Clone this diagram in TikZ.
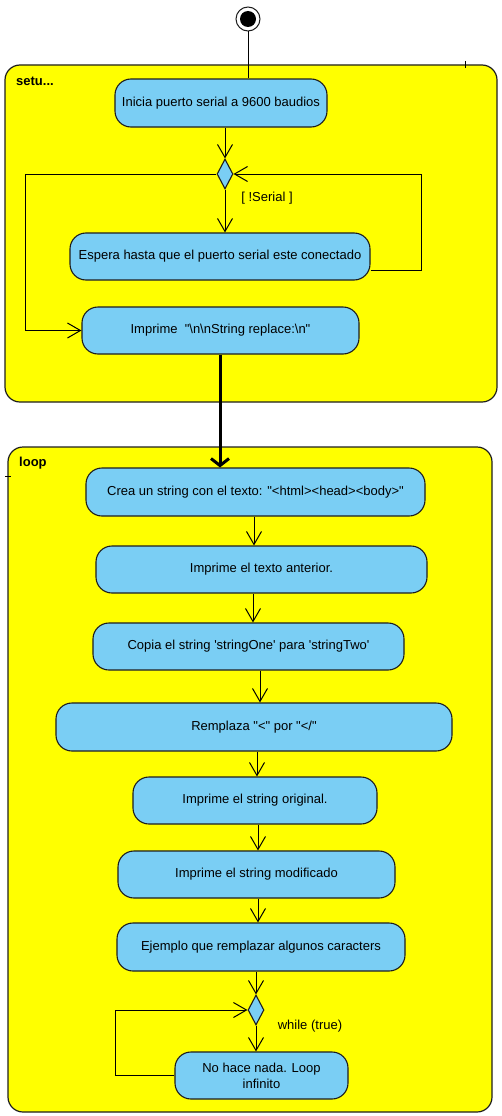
\documentclass[tikz,border=0pt]{standalone}
\usepackage{fontspec}
\setmainfont{Liberation Sans}[Ligatures=TeXOff]
\usetikzlibrary{arrows.meta,shapes.geometric}
\definecolor{actblue}{RGB}{122,206,244}
\definecolor{frameyellow}{RGB}{255,255,0}
\definecolor{edge}{RGB}{30,30,30}
\tikzset{
  act/.style={draw=edge, line width=1.1pt, fill=actblue, rounded corners=16pt,
    inner sep=0pt, align=center, font=\fontsize{13}{16}\selectfont},
  frame/.style={draw=edge, line width=1.2pt, fill=frameyellow, rounded corners=15pt},
  dec/.style={draw=edge, line width=1.1pt, fill=actblue, diamond, inner sep=0pt,
    minimum width=16pt, minimum height=30pt},
  arr/.style={line width=1pt, -{Straight Barb[length=13pt,width=15pt]}},
  flowline/.style={line width=1pt},
  lbl/.style={font=\fontsize{13}{16}\selectfont, inner sep=0pt},
  title/.style={font=\fontsize{13}{16}\selectfont\bfseries, inner sep=0pt, anchor=west},
}
\begin{document}
\begin{tikzpicture}[x=1pt,y=-1pt]
\useasboundingbox (0,0) rectangle (501,1116);
% frames
\draw[frame] (5,65) rectangle (497,402);
\draw[line width=0.8pt] (465,61) -- (465,68);
\node[title] (setuplbl) at (16,81) {setu...};
\draw[frame] (8,447) rectangle (492,1112);
\draw[line width=0.8pt] (5,476) -- (11,476);
\node[title] (looplbl) at (19,463) {loop};

% initial node
\node[circle, draw=edge, fill=white, line width=1pt, minimum size=24pt, inner sep=0pt] (init) at (248,19) {};
\node[circle, fill=black, minimum size=16pt, inner sep=0pt] (initdot) at (248,19) {};

% setup activities
\node[act, minimum width=212pt, minimum height=48pt] (b1) at (221,103) {Inicia puerto serial a 9600 baudios};
\node[dec] (d1) at (225,174) {};
\node[act, minimum width=300pt, minimum height=47pt] (b2) at (220,256.5) {Espera hasta que el puerto serial este conectado};
\node[act, minimum width=277pt, minimum height=47pt] (b3) at (220.5,330.5) {Imprime\ \ "{\textbackslash}n{\textbackslash}nString replace:{\textbackslash}n"};
\node[lbl] (serlbl) at (267,198) {[ !Serial ]};

\coordinate (xa) at (225,0);
\coordinate (xinit) at (248,0);
\coordinate (xleft) at (25,0);
\coordinate (xthick) at (220,0);

\draw[flowline] (init.south) -- (init.south |- b1.north);
\draw[arr] (b1.south -| xa) -- (d1.north);
\draw[arr] (d1.south) -- (b2.north -| xa);
\draw[arr] (d1.west) -- (d1.west -| xleft) |- (b3.west);
\draw[arr] ([yshift=-13.5pt]b2.east) -- ++(51,0) |- (d1.east);

% loop activities
\node[act, minimum width=339pt, minimum height=48pt] (c1) at (255.5,492) {Crea un string con el texto: "<html><head><body>"};
\node[act, minimum width=331pt, minimum height=47pt] (c2) at (261.5,569.5) {Imprime el texto anterior.};
\node[act, minimum width=311pt, minimum height=47pt] (c3) at (248.5,646.5) {Copia el string 'stringOne' para 'stringTwo'};
\node[act, minimum width=396pt, minimum height=48pt] (c4) at (254,727) {Remplaza "<" por "</"};
\node[act, minimum width=244pt, minimum height=47pt] (c5) at (255,800.5) {Imprime el string original.};
\node[act, minimum width=277pt, minimum height=47pt] (c6) at (256.5,874.5) {Imprime el string modificado};
\node[act, minimum width=288pt, minimum height=48pt] (c7) at (261,947) {Ejemplo que remplazar algunos caracters};
\node[dec] (d2) at (256,1010) {};
\node[act, minimum width=173pt, minimum height=47pt] (c8) at (261.5,1075.5) {No hace nada. Loop\\infinito};
\node[lbl] (whilelbl) at (310,1026) {while (true)};

\draw[line width=3pt, -{Straight Barb[length=7pt,width=18pt]}] (b3.south -| xthick) -- (c1.north -| xthick);

\coordinate (x1) at (254,0);
\coordinate (x2) at (253,0);
\coordinate (x3) at (260,0);
\coordinate (x4) at (257,0);
\coordinate (x5) at (258,0);
\coordinate (x6) at (258,0);
\coordinate (x7) at (256,0);
\draw[arr] (c1.south -| x1) -- (c2.north -| x1);
\draw[arr] (c2.south -| x2) -- (c3.north -| x2);
\draw[arr] (c3.south -| x3) -- (c4.north -| x3);
\draw[arr] (c4.south -| x4) -- (c5.north -| x4);
\draw[arr] (c5.south -| x5) -- (c6.north -| x5);
\draw[arr] (c6.south -| x6) -- (c7.north -| x6);
\draw[arr] (c7.south -| x7) -- (d2.north);
\draw[arr] (d2.south) -- (c8.north -| x7);
\draw[arr] (c8.west) -- ++(-59,0) |- (d2.west);
\end{tikzpicture}
\end{document}
